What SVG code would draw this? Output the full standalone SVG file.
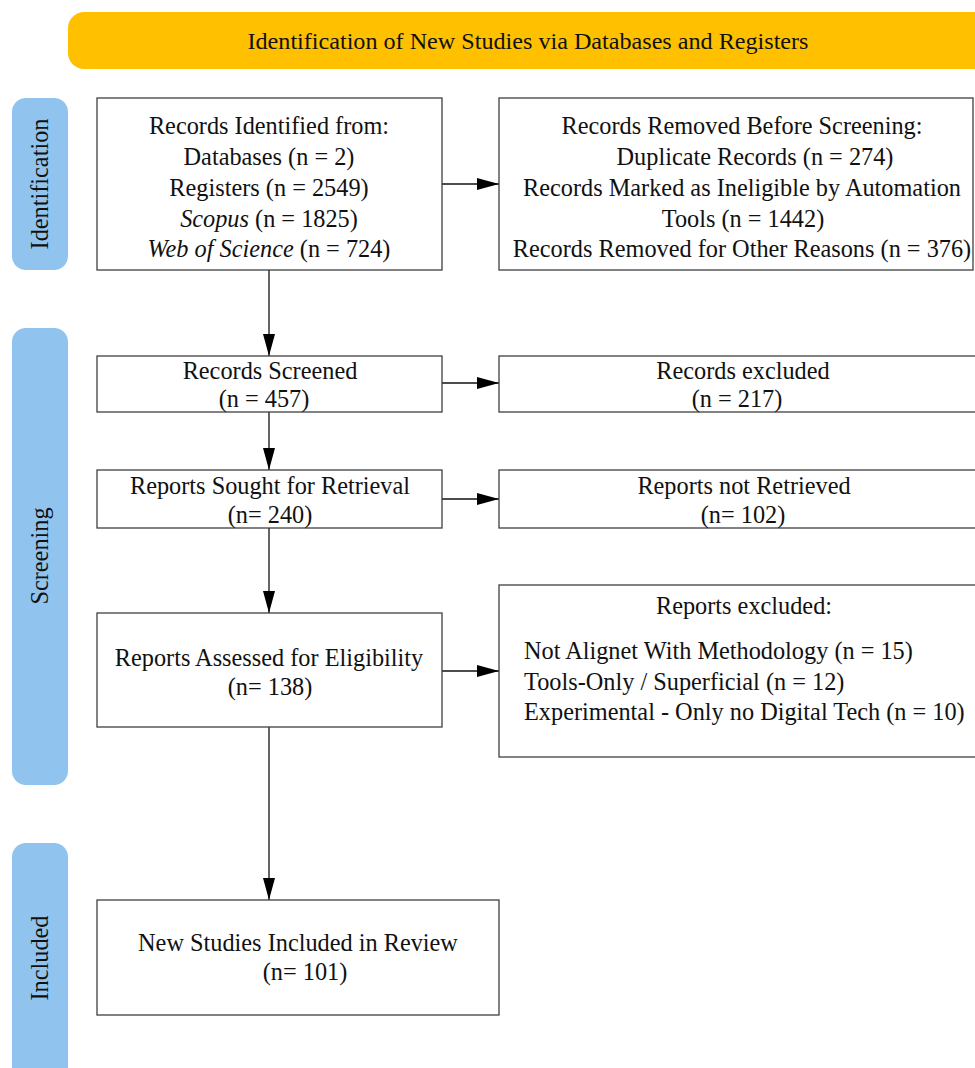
<svg xmlns="http://www.w3.org/2000/svg" width="975" height="1068" viewBox="0 0 975 1068">
<defs>
<style>
.box{fill:#fff;stroke:#404040;stroke-width:1.3}
.side{fill:#90C4EE}
.t{font-family:"Liberation Serif","Times New Roman",serif;font-size:24.3px;fill:#111;text-anchor:middle}
.l{text-anchor:start}
.i{font-style:italic}
.c{stroke:#111;stroke-width:1.3;fill:none}
</style>
<marker id="ah" markerWidth="22" markerHeight="12" refX="22" refY="6" orient="auto" markerUnits="userSpaceOnUse">
<path d="M0,0 L22,6 L0,12 Z" fill="#000"/>
</marker>
</defs>
<rect width="975" height="1068" fill="#fff"/>

<g id="banner">
<rect x="68" y="12" width="930" height="57" rx="16" fill="#FFC000"/>
<text class="t" x="528" y="49" textLength="561" lengthAdjust="spacingAndGlyphs" style="font-size:24px">Identification of New Studies via Databases and Registers</text>
</g>

<g id="side-identification">
<rect class="side" x="12" y="98" width="56" height="172" rx="14"/>
<text class="t" transform="translate(48,184) rotate(-90)">Identification</text>
</g>
<g id="side-screening">
<rect class="side" x="12" y="328" width="56" height="457" rx="14"/>
<text class="t" transform="translate(48,556) rotate(-90)">Screening</text>
</g>
<g id="side-included">
<rect class="side" x="12" y="843" width="56" height="250" rx="14"/>
<text class="t" transform="translate(48,958) rotate(-90)">Included</text>
</g>

<g id="connectors">
<line class="c" x1="442" y1="184" x2="499" y2="184" marker-end="url(#ah)"/>
<line class="c" x1="269" y1="270" x2="269" y2="356" marker-end="url(#ah)"/>
<line class="c" x1="442" y1="383" x2="499" y2="383" marker-end="url(#ah)"/>
<line class="c" x1="269" y1="412" x2="269" y2="470" marker-end="url(#ah)"/>
<line class="c" x1="442" y1="499" x2="499" y2="499" marker-end="url(#ah)"/>
<line class="c" x1="269" y1="528" x2="269" y2="613" marker-end="url(#ah)"/>
<line class="c" x1="442" y1="671" x2="499" y2="671" marker-end="url(#ah)"/>
<line class="c" x1="269" y1="727" x2="269" y2="900" marker-end="url(#ah)"/>
</g>

<g id="n-identified">
<rect class="box" x="97" y="98" width="345" height="172"/>
<text class="t" x="269" y="134">Records Identified from:</text>
<text class="t" x="269" y="165">Databases (n = 2)</text>
<text class="t" x="269" y="196">Registers (n = 2549)</text>
<text class="t" x="269" y="227"><tspan class="i">Scopus</tspan> (n = 1825)</text>
<text class="t" x="269" y="257"><tspan class="i">Web of Science</tspan> (n = 724)</text>
</g>

<g id="n-removed">
<rect class="box" x="499" y="98" width="474" height="172"/>
<text class="t" x="742" y="134">Records Removed Before Screening:</text>
<text class="t" x="755" y="165">Duplicate Records (n = 274)</text>
<text class="t" x="742" y="196">Records Marked as Ineligible by Automation</text>
<text class="t" x="743" y="227">Tools (n = 1442)</text>
<text class="t" x="742" y="257">Records Removed for Other Reasons (n = 376)</text>
</g>

<g id="n-screened">
<rect class="box" x="97" y="356" width="345" height="56"/>
<text class="t" x="270" y="379">Records Screened</text>
<text class="t" x="264" y="407">(n = 457)</text>
</g>

<g id="n-excluded">
<rect class="box" x="499" y="356" width="478" height="56"/>
<text class="t" x="743" y="379">Records excluded</text>
<text class="t" x="737" y="407">(n = 217)</text>
</g>

<g id="n-sought">
<rect class="box" x="97" y="470" width="345" height="58"/>
<text class="t" x="270" y="494">Reports Sought for Retrieval</text>
<text class="t" x="270" y="523">(n= 240)</text>
</g>

<g id="n-notretrieved">
<rect class="box" x="499" y="470" width="478" height="58"/>
<text class="t" x="744" y="494">Reports not Retrieved</text>
<text class="t" x="743" y="523">(n= 102)</text>
</g>

<g id="n-assessed">
<rect class="box" x="97" y="613" width="345" height="114"/>
<text class="t" x="269" y="666">Reports Assessed for Eligibility</text>
<text class="t" x="270" y="695">(n= 138)</text>
</g>

<g id="n-reportsexcluded">
<rect class="box" x="499" y="585" width="478" height="172"/>
<text class="t" x="744" y="614">Reports excluded:</text>
<text class="t l" x="524" y="659">Not Alignet With Methodology (n = 15)</text>
<text class="t l" x="524" y="690">Tools-Only / Superficial (n = 12)</text>
<text class="t l" x="524" y="720">Experimental - Only no Digital Tech (n = 10)</text>
</g>

<g id="n-included">
<rect class="box" x="97" y="900" width="402" height="115"/>
<text class="t" x="298" y="951">New Studies Included in Review</text>
<text class="t" x="305" y="980">(n= 101)</text>
</g>
</svg>
